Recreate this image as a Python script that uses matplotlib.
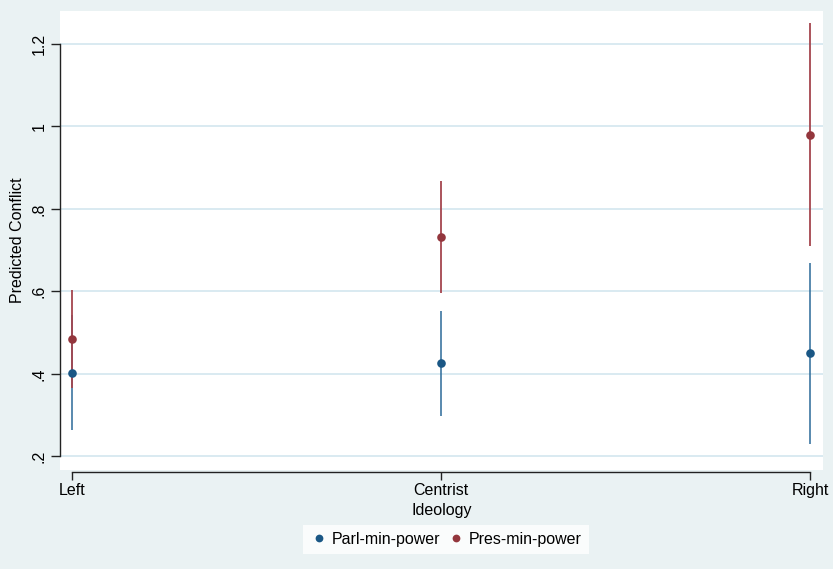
import numpy as np
import matplotlib.pyplot as plt

plt.rcParams['font.family'] = ['Liberation Sans', 'DejaVu Sans']

# predicted values with 95% intervals by ideology
categories = ["Left", "Centrist", "Right"]
parl_est = [0.403, 0.427, 0.451]
parl_lo = [0.263, 0.299, 0.231]
parl_hi = [0.543, 0.553, 0.669]
pres_est = [0.485, 0.731, 0.978]
pres_lo = [0.367, 0.596, 0.710]
pres_hi = [0.603, 0.867, 1.251]
ytick_vals = [0.2, 0.4, 0.6, 0.8, 1.0, 1.2]
ytick_labels = [".2", ".4", ".6", ".8", "1", "1.2"]

blue = "#1a5785"
red = "#93363d"
bg = "#eaf2f3"
fs = 11.5

fig = plt.figure(figsize=(8.33, 5.69), dpi=100, facecolor=bg)
ax = fig.add_axes([0.0720, 0.1740, 0.9156, 0.8067])
ax.set_facecolor("white")

x = np.arange(len(categories))

# interval lines first, dots on top
ax.vlines(x, parl_lo, parl_hi, color="#2b6a99", lw=1.1, zorder=2)
ax.vlines(x, pres_lo, pres_hi, color="#a5454e", lw=1.3, zorder=2)
ax.plot(x, parl_est, "o", color=blue, ms=6.2, mew=0, zorder=3, label="Parl-min-power")
ax.plot(x, pres_est, "o", color=red, ms=6.2, mew=0, zorder=3, label="Pres-min-power")

ax.set_xlim(-0.0333, 2.0336)
ax.set_ylim(0.1673, 1.279)

for s in ["top", "right"]:
    ax.spines[s].set_visible(False)
ax.spines["left"].set_bounds(0.2, 1.2)
ax.spines["bottom"].set_bounds(0, 2)
ax.spines["bottom"].set_position(("outward", 1.2))
for s in ["left", "bottom"]:
    ax.spines[s].set_linewidth(1.0)
    ax.spines[s].set_color("#222222")
ax.tick_params(axis="y", length=6.5, width=1, color="#222222", pad=3, labelsize=fs)
ax.tick_params(axis="x", length=6, width=1, color="#222222", pad=2.5, labelsize=fs)

ax.set_yticks(ytick_vals)
ax.set_yticklabels(ytick_labels, rotation=90, va="center", fontsize=fs)
ax.set_xticks(x)
ax.set_xticklabels(categories, fontsize=fs)
ax.grid(axis="y", color="#d0e4ed", lw=1.1)
ax.set_axisbelow(True)

ax.set_ylabel("Predicted Conflict", fontsize=fs, labelpad=5)
ax.set_xlabel("Ideology", fontsize=fs, labelpad=3)

leg = fig.legend(loc="center", bbox_to_anchor=(0.5354, 0.0518), ncol=2,
                 frameon=True, fancybox=False, fontsize=fs, handlelength=1.0,
                 handletextpad=0.3, columnspacing=0.5, borderpad=0.45,
                 markerscale=0.9)
leg.get_frame().set_edgecolor("white")
leg.get_frame().set_facecolor("white")
leg.get_frame().set_linewidth(0)

fig.savefig("out.png", dpi=100, facecolor=bg)
